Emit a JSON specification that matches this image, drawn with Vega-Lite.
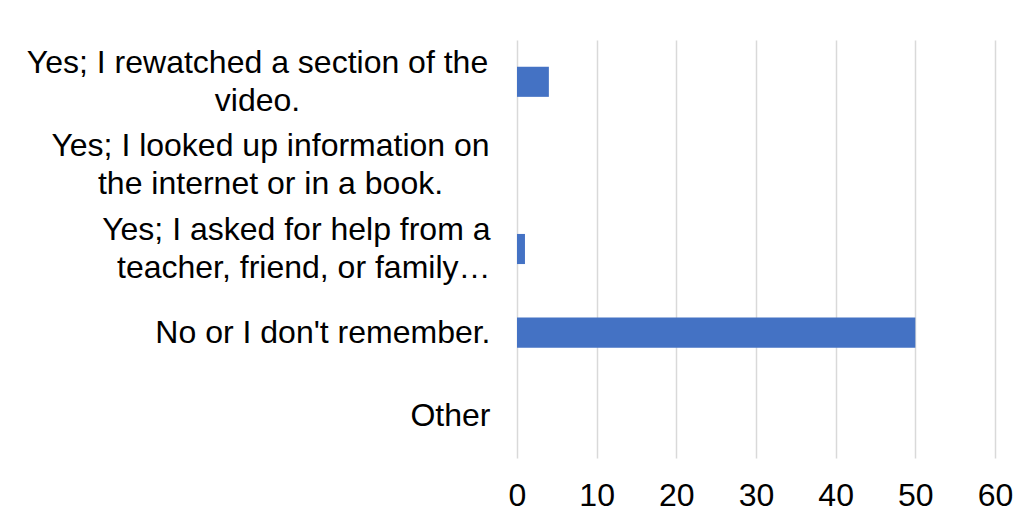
{
  "$schema": "https://vega.github.io/schema/vega-lite/v6.json",
  "autosize": "none",
  "width": 478,
  "height": 418,
  "padding": {"left": 517, "top": 40, "right": 34, "bottom": 65},
  "background": "white",
  "data": {
    "values": [
      {"answer": "Yes; I rewatched a section of the\nvideo.", "count": 4},
      {"answer": "Yes; I looked up information on\nthe internet or in a book.", "count": 0},
      {"answer": "Yes; I asked for help from a\nteacher, friend, or family…", "count": 1},
      {"answer": "No or I don't remember.", "count": 50},
      {"answer": "Other", "count": 0}
    ]
  },
  "mark": {"type": "bar", "color": "#4472C4"},
  "encoding": {
    "y": {
      "field": "answer",
      "type": "nominal",
      "sort": null,
      "title": null,
      "scale": {"paddingInner": 0.64, "paddingOuter": 0.32},
      "axis": {
        "domain": false,
        "ticks": false,
        "grid": false,
        "labelExpr": "split(datum.value, '\\n')",
        "labelFont": "Liberation Sans",
        "labelFontSize": 32,
        "labelColor": "#000000",
        "labelLineHeight": 38,
        "labelLimit": 600,
        "labelAlign": {"condition": {"test": "datum.value == 'Yes; I rewatched a section of the\\nvideo.' || datum.value == 'Yes; I looked up information on\\nthe internet or in a book.'", "value": "center"}, "value": "right"},
        "labelPadding": {"condition": [
          {"test": "datum.value == 'Yes; I rewatched a section of the\\nvideo.'", "value": 260},
          {"test": "datum.value == 'Yes; I looked up information on\\nthe internet or in a book.'", "value": 247}
        ], "value": 27},
        "labelOffset": {"condition": {"test": "datum.value == 'No or I don\\'t remember.' || datum.value == 'Other'", "value": 0}, "value": -19}
      }
    },
    "x": {
      "field": "count",
      "type": "quantitative",
      "title": null,
      "scale": {"domain": [0, 60], "nice": false},
      "axis": {
        "values": [0, 10, 20, 30, 40, 50, 60],
        "domain": false,
        "ticks": false,
        "grid": true,
        "gridColor": "#D9D9D9",
        "gridWidth": 1.5,
        "labelFont": "Liberation Sans",
        "labelFontSize": 32,
        "labelColor": "#000000",
        "labelPadding": 22,
        "labelFlush": false
      }
    }
  },
  "config": {"view": {"stroke": null}}
}
